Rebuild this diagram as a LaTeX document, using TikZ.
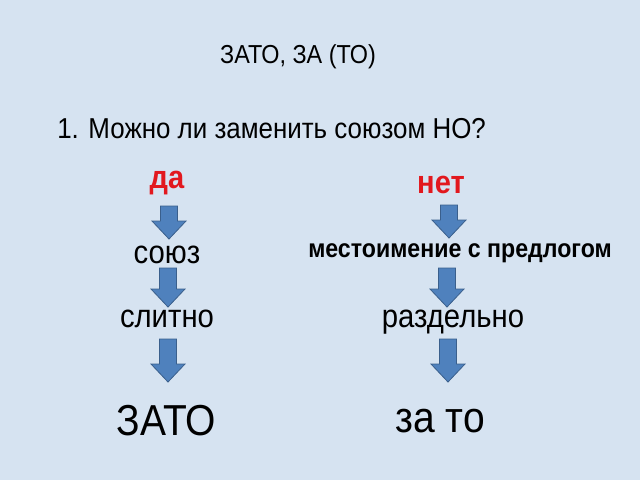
\documentclass[tikz,border=0pt]{standalone}
\usepackage{fontspec}
\setmainfont{Liberation Sans}[FakeStretch=0.9]
\definecolor{bgblue}{RGB}{214,227,241}
\definecolor{arrowfill}{RGB}{79,129,189}
\definecolor{arrowline}{RGB}{58,95,140}
\definecolor{txtred}{RGB}{226,24,30}
\tikzset{
  px/.style={x=0.75pt,y=-0.75pt},
  txt/.style={anchor=base,inner sep=0pt,text=black},
  redword/.style={txt,text=txtred,font=\bfseries\fontsize{24.2}{24.2}\selectfont},
  word/.style={txt,font=\fontsize{24.4}{24.4}\selectfont},
  bigword/.style={txt,font=\fontsize{32.5}{32.5}\selectfont},
  barrow/.pic={\path[fill=arrowfill,draw=arrowline,line width=0.6pt]
     (-8.5,0) -- (8.5,0) -- (8.5,\arrowlen-18) -- (17,\arrowlen-18) -- (0,\arrowlen)
     -- (-17,\arrowlen-18) -- (-8.5,\arrowlen-18) -- cycle;}
}
\newcommand\arrowlen{33}
\begin{document}
\begin{tikzpicture}[px]
\fill[bgblue] (0,0) rectangle (640,480);
\useasboundingbox (0,0) rectangle (640,480);
\node[txt,font=\fontsize{19.5}{19.5}\selectfont] (title) at (298,63) {ЗАТО, ЗА (ТО)};
\node[txt,anchor=base west,font=\fontsize{21.6}{21.6}\selectfont] (q) at (57,138) {1. Можно ли заменить союзом НО?};
\node[redword] (da) at (167,188) {да};
\node[redword] (net) at (441,193) {нет};
\node[word] (soyuz) at (167,263) {союз};
\node[txt,font=\bfseries\fontsize{19.3}{19.3}\selectfont] (mest) at (460,257) {местоимение с предлогом};
\node[word] (slitno) at (167,327) {слитно};
\node[word] (razd) at (453,327) {раздельно};
\node[bigword] (zato) at (166,435) {ЗАТО};
\node[bigword] (zato2) at (440,432) {за то};
\renewcommand\arrowlen{33}
\pic (a1) at (169,206) {barrow};
\pic (b1) at (449,205) {barrow};
\renewcommand\arrowlen{39}
\pic (a2) at (168,268) {barrow};
\pic (b2) at (447,268) {barrow};
\renewcommand\arrowlen{43}
\pic (a3) at (168,339) {barrow};
\pic (b3) at (448,339) {barrow};
\end{tikzpicture}
\end{document}
